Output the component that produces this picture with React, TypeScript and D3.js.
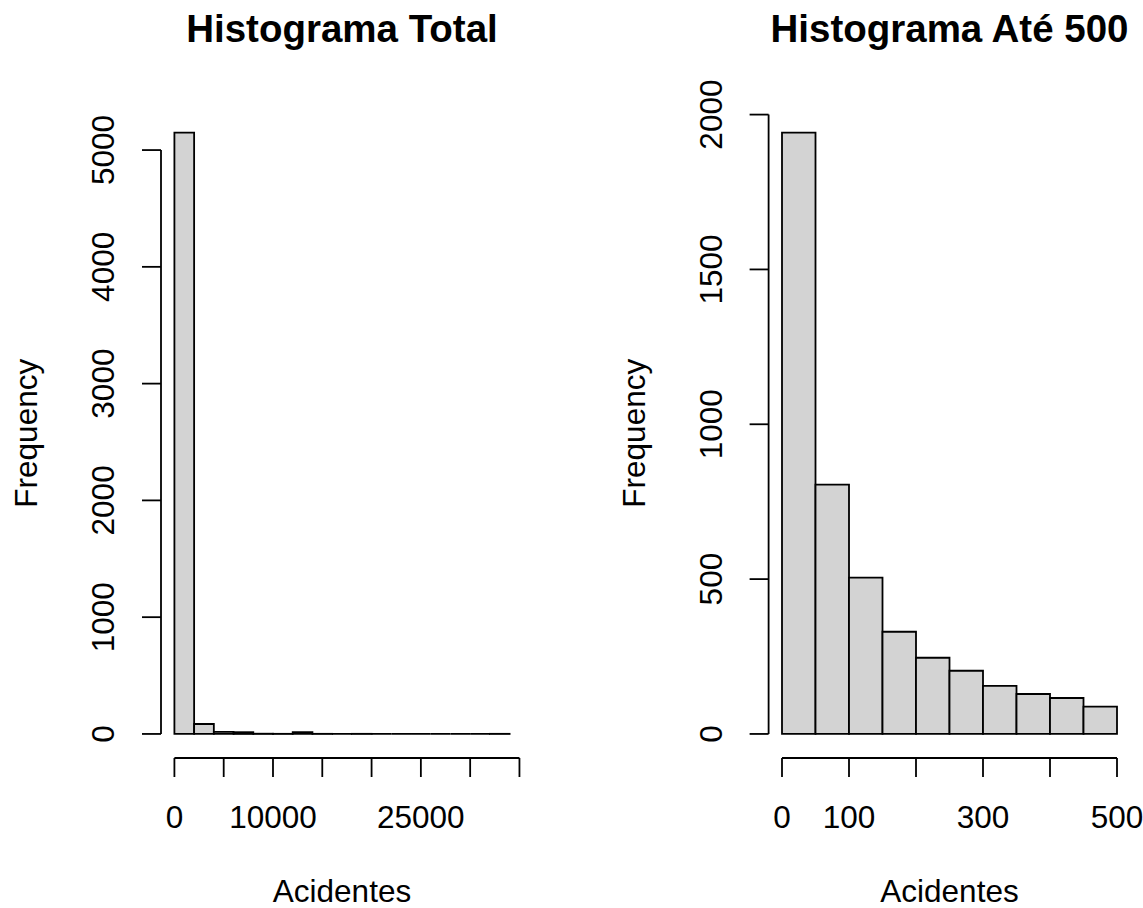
import React from 'react';
import * as d3 from 'd3';

// histogram 1: all values, bins of 2000
const totalBreaks = d3.range(0, 34001, 2000);
const totalCounts = [5150, 85, 18, 15, 2, 1, 16, 1, 0, 1, 0, 0, 0, 0, 0, 0, 1];
const totalXTicks = [0, 5000, 10000, 15000, 20000, 25000, 30000, 35000];
const totalXLabels = [0, 10000, 25000];
const totalYTicks = [0, 1000, 2000, 3000, 4000, 5000];

// histogram 2: values up to 500, bins of 50
const subBreaks = d3.range(0, 501, 50);
const subCounts = [1942, 805, 505, 330, 246, 204, 155, 129, 116, 88];
const subXTicks = [0, 100, 200, 300, 400, 500];
const subXLabels = [0, 100, 300, 500];
const subYTicks = [0, 500, 1000, 1500, 2000];

const FONT = '"Liberation Sans", Arial, sans-serif';
const FS = 31.5;
const TOP = 108.5;
const BOTTOM = 758;

function Panel({ title, breaks, counts, xTicks, xLabels, yTicks, left, right }) {
  const xMin = breaks[0];
  const xMax = breaks[breaks.length - 1];
  const yMax = d3.max(counts);
  const xPad = (xMax - xMin) * 0.04;
  const yPad = yMax * 0.04;
  const x = d3.scaleLinear().domain([xMin - xPad, xMax + xPad]).range([left, right]);
  const y = d3.scaleLinear().domain([-yPad, yMax + yPad]).range([BOTTOM, TOP]);
  const cx = (left + right) / 2;
  const axisY = BOTTOM;
  const axisX = left;
  const tick = 19;

  // path instead of rect so empty bins still show as a flat line
  const barPath = (i) => {
    const x0 = x(breaks[i]);
    const x1 = x(breaks[i + 1]);
    const y0 = y(0);
    const y1 = y(counts[i]);
    return `M${x0},${y0}V${y1}H${x1}V${y0}Z`;
  };

  return (
    <g>
      <text x={cx} y={42} textAnchor="middle" fontFamily={FONT} fontWeight="bold" fontSize={38.5}>
        {title}
      </text>
      {counts.map((c, i) => (
        <path key={i} d={barPath(i)} fill="#d3d3d3" stroke="#000" strokeWidth={1.8} />
      ))}
      {/* x axis */}
      <line x1={x(xTicks[0])} x2={x(xTicks[xTicks.length - 1])} y1={axisY} y2={axisY} stroke="#000" strokeWidth={1.8} />
      {xTicks.map((t) => (
        <line key={t} x1={x(t)} x2={x(t)} y1={axisY} y2={axisY + tick} stroke="#000" strokeWidth={1.8} />
      ))}
      {xLabels.map((t) => (
        <text key={t} x={x(t)} y={828} textAnchor="middle" fontFamily={FONT} fontSize={FS}>
          {t}
        </text>
      ))}
      <text x={cx} y={902} textAnchor="middle" fontFamily={FONT} fontSize={FS}>
        Acidentes
      </text>
      {/* y axis */}
      <line x1={axisX} x2={axisX} y1={y(yTicks[0])} y2={y(yTicks[yTicks.length - 1])} stroke="#000" strokeWidth={1.8} />
      {yTicks.map((t) => (
        <line key={t} x1={axisX - tick} x2={axisX} y1={y(t)} y2={y(t)} stroke="#000" strokeWidth={1.8} />
      ))}
      {yTicks.map((t) => (
        <text
          key={t}
          transform={`translate(${axisX - 47},${y(t)}) rotate(-90)`}
          textAnchor="middle"
          fontFamily={FONT}
          fontSize={FS}
        >
          {t}
        </text>
      ))}
      <text
        transform={`translate(${axisX - 124},${(TOP + BOTTOM) / 2}) rotate(-90)`}
        textAnchor="middle"
        fontFamily={FONT}
        fontSize={FS}
      >
        Frequency
      </text>
    </g>
  );
}

export default function App() {
  return (
    <svg
      width={1143}
      height={908}
      style={{ position: 'absolute', left: 0, top: 0, background: '#fff' }}
    >
      <rect width={1143} height={908} fill="#fff" />
      <Panel
        title="Histograma Total"
        breaks={totalBreaks}
        counts={totalCounts}
        xTicks={totalXTicks}
        xLabels={totalXLabels}
        yTicks={totalYTicks}
        left={161}
        right={523}
      />
      <Panel
        title="Histograma Até 500"
        breaks={subBreaks}
        counts={subCounts}
        xTicks={subXTicks}
        xLabels={subXLabels}
        yTicks={subYTicks}
        left={768.6}
        right={1130.4}
      />
    </svg>
  );
}
